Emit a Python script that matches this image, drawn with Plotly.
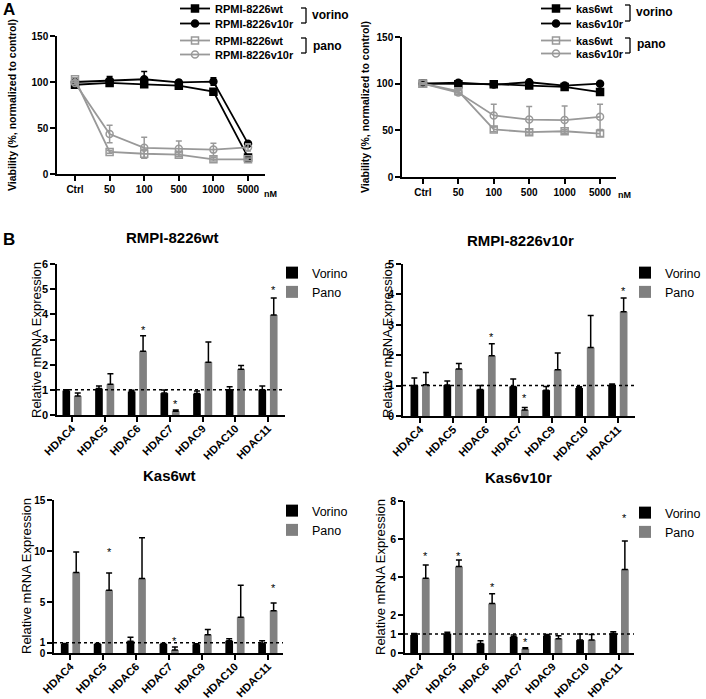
import plotly.graph_objects as go

W, H = 706, 699
FONT = "Liberation Sans, Arial, sans-serif"

# ---------------- Panel A data ----------------
doses = ["Ctrl", "50", "100", "500", "1000", "5000"]

rpmi_vor_wt = [97, 99, 97.5, 96, 89.5, 18]
rpmi_vor_wt_err = [1.5, 1.5, 2.5, 1.5, 1.5, 1.5]
rpmi_vor_v10r = [100, 101.5, 103, 99.5, 100.5, 33]
rpmi_vor_v10r_err = [1.5, 4.5, 8.5, 2.5, 4, 1.5]
rpmi_pan_wt = [103, 24, 22, 21, 16, 16]
rpmi_pan_wt_err = [1.5, 1.5, 5, 2, 2, 1.5]
rpmi_pan_v10r = [99, 43.5, 28.5, 27.5, 26.5, 29]
rpmi_pan_v10r_err = [2, 9.5, 11.5, 8.5, 7, 4]
rpmi_star_x = ["50", "100", "500", "1000"]
rpmi_star_y = [68, 52, 52, 39]

kas_vor_wt = [100, 99.5, 99.5, 98, 96.5, 91]
kas_vor_wt_err = [1, 1, 1.5, 1, 1, 2]
kas_vor_v10r = [100, 101, 99, 101.5, 98, 100]
kas_vor_v10r_err = [1, 1, 1, 1, 1, 1]
kas_pan_wt = [100, 92, 51, 48, 49, 46.5]
kas_pan_wt_err = [1, 2, 2.5, 3, 2, 3]
kas_pan_v10r = [100, 90.5, 66, 61.5, 61, 64.5]
kas_pan_v10r_err = [1, 2, 12, 14, 15, 13.5]
kas_star_x = ["100", "500", "1000", "5000"]
kas_star_y = [40, 40, 40, 40]

# ---------------- Panel B data ----------------
hdac = ["HDAC4", "HDAC5", "HDAC6", "HDAC7", "HDAC9", "HDAC10", "HDAC11"]

b1_vor = [0.97, 1.05, 0.93, 0.87, 0.85, 1.0, 1.0]
b1_vor_err = [0.03, 0.1, 0.05, 0.12, 0.1, 0.12, 0.15]
b1_pan = [0.75, 1.22, 2.53, 0.15, 2.1, 1.82, 3.97]
b1_pan_err = [0.12, 0.42, 0.62, 0.05, 0.8, 0.15, 0.68]
b1_star_x = ["HDAC6", "HDAC7", "HDAC11"]
b1_star_y = [3.5, 0.55, 5.1]

b2_vor = [1.0, 1.02, 0.87, 0.97, 0.85, 0.92, 1.02]
b2_vor_err = [0.25, 0.13, 0.13, 0.25, 0.12, 0.04, 0.03]
b2_pan = [1.03, 1.55, 1.98, 0.2, 1.52, 2.25, 3.43]
b2_pan_err = [0.4, 0.18, 0.4, 0.08, 0.55, 1.06, 0.45]
b2_star_x = ["HDAC6", "HDAC7", "HDAC11"]
b2_star_y = [2.7, 0.69, 4.2]

b3_vor = [0.88, 0.88, 1.15, 0.88, 0.85, 1.2, 0.95]
b3_vor_err = [0.05, 0.05, 0.4, 0.05, 0.05, 0.2, 0.25]
b3_pan = [7.9, 6.15, 7.3, 0.3, 1.8, 3.5, 4.15]
b3_pan_err = [2.0, 1.7, 4.0, 0.3, 0.5, 3.15, 0.75]
b3_star_x = ["HDAC5", "HDAC7", "HDAC11"]
b3_star_y = [10.2, 1.45, 6.7]

b4_vor = [0.95, 1.02, 0.5, 0.85, 0.92, 0.68, 1.02]
b4_vor_err = [0.07, 0.07, 0.15, 0.1, 0.05, 0.32, 0.1]
b4_pan = [3.93, 4.55, 2.6, 0.22, 0.75, 0.68, 4.4]
b4_pan_err = [0.7, 0.35, 0.52, 0.06, 0.16, 0.3, 1.5]
b4_star_x = ["HDAC4", "HDAC5", "HDAC6", "HDAC7", "HDAC11"]
b4_star_y = [5.25, 5.25, 3.63, 0.74, 7.27]


def X(p):
    return p / W


def Y(p):
    return 1 - p / H


BLACK = "black"
GRAY_L = "#999999"
GRAY_B = "#808080"

fig = go.Figure()


def add_line(y, err, name, color, symbol, fill, xa, ya, leg):
    fig.add_trace(go.Scatter(
        x=doses, y=y, mode="lines+markers", name=name, showlegend=True,
        line=dict(color=color, width=1.8),
        marker=dict(symbol=symbol, size=7, color=fill, line=dict(color=color, width=1.5)),
        error_y=dict(type="data", array=err, color=color, thickness=1.5, width=3),
        xaxis=xa, yaxis=ya, legend=leg, cliponaxis=False))


# top-left (one legend per entry so rows can sit as in the reference)
add_line(rpmi_vor_wt, rpmi_vor_wt_err, "RPMI-8226wt", BLACK, "square", BLACK, "x", "y", "legend")
add_line(rpmi_vor_v10r, rpmi_vor_v10r_err, "RPMI-8226v10r", BLACK, "circle", BLACK, "x", "y", "legend7")
add_line(rpmi_pan_wt, rpmi_pan_wt_err, "RPMI-8226wt", GRAY_L, "square-open", GRAY_L, "x", "y", "legend8")
add_line(rpmi_pan_v10r, rpmi_pan_v10r_err, "RPMI-8226v10r", GRAY_L, "circle-open", GRAY_L, "x", "y", "legend9")
# top-right
add_line(kas_vor_wt, kas_vor_wt_err, "kas6wt", BLACK, "square", BLACK, "x2", "y2", "legend2")
add_line(kas_vor_v10r, kas_vor_v10r_err, "kas6v10r", BLACK, "circle", BLACK, "x2", "y2", "legend10")
add_line(kas_pan_wt, kas_pan_wt_err, "kas6wt", GRAY_L, "square-open", GRAY_L, "x2", "y2", "legend11")
add_line(kas_pan_v10r, kas_pan_v10r_err, "kas6v10r", GRAY_L, "circle-open", GRAY_L, "x2", "y2", "legend12")


def add_bars(vor, vor_err, pan, pan_err, xa, ya, leg):
    for name, vals, errs, col in (("Vorino", vor, vor_err, BLACK), ("Pano", pan, pan_err, GRAY_B)):
        fig.add_trace(go.Bar(
            x=hdac, y=vals, name=name, showlegend=True, marker=dict(color=col, line=dict(width=0)),
            error_y=dict(type="data", array=errs, arrayminus=[0] * len(errs), symmetric=False,
                         color=BLACK, thickness=1.5, width=3),
            xaxis=xa, yaxis=ya, legend=leg))


add_bars(b1_vor, b1_vor_err, b1_pan, b1_pan_err, "x3", "y3", "legend3")
add_bars(b2_vor, b2_vor_err, b2_pan, b2_pan_err, "x4", "y4", "legend4")
add_bars(b3_vor, b3_vor_err, b3_pan, b3_pan_err, "x5", "y5", "legend5")
add_bars(b4_vor, b4_vor_err, b4_pan, b4_pan_err, "x6", "y6", "legend6")


def axis(dom, anchor, rng, size=10, **kw):
    d = dict(domain=dom, anchor=anchor, range=rng, showline=True, linecolor=BLACK, linewidth=1.5,
             ticks="outside", ticklen=5, tickwidth=1.5, tickcolor=BLACK, showgrid=False,
             zeroline=False, automargin=False,
             tickfont=dict(family=FONT, size=size, color=BLACK, weight="bold"))
    d.update(kw)
    return d


bx = dict(size=11, type="category", tickangle=-45, ticklabelstandoff=-4)

layout = dict(
    width=W, height=H, margin=dict(l=0, r=0, t=0, b=0, autoexpand=False),
    paper_bgcolor="white", plot_bgcolor="white", showlegend=True,
    barmode="group", bargap=0.3, bargroupgap=0.33,
    font=dict(family=FONT, color=BLACK),
    xaxis=axis([X(57), X(265)], "y", [-0.52, 5.49], type="category"),
    yaxis=axis([Y(174), Y(36)], "x", [0, 150], tickvals=[0, 50, 100, 150]),
    xaxis2=axis([X(402), X(616)], "y2", [-0.59, 5.45], type="category"),
    yaxis2=axis([Y(177), Y(37)], "x2", [0, 150], tickvals=[0, 50, 100, 150]),
    xaxis3=axis([X(57), X(285)], "y3", [-0.46, 6.52], **bx),
    yaxis3=axis([Y(415), Y(264)], "x3", [0, 6], size=11, tickvals=[0, 1, 2, 3, 4, 5, 6]),
    xaxis4=axis([X(403), X(635)], "y4", [-0.52, 6.52], **bx),
    yaxis4=axis([Y(416), Y(264)], "x4", [0, 5], size=11, tickvals=[0, 1, 2, 3, 4, 5]),
    xaxis5=axis([X(54), X(283)], "y5", [-0.5, 6.46], **bx),
    yaxis5=axis([Y(653), Y(500)], "x5", [0, 15], size=10, tickvals=[0, 1, 5, 10, 15]),
    xaxis6=axis([X(405), X(634)], "y6", [-0.45, 6.45], **bx),
    yaxis6=axis([Y(653), Y(501)], "x6", [0, 8], size=10.5, tickvals=[0, 1, 2, 4, 6, 8]),
)

leg_top = dict(bgcolor="rgba(0,0,0,0)", borderwidth=0, yanchor="top", xanchor="left",
               tracegroupgap=0, font=dict(family=FONT, size=11, color=BLACK, weight="bold"))
leg_bot = dict(bgcolor="rgba(0,0,0,0)", borderwidth=0, yanchor="top",
               tracegroupgap=0, font=dict(family=FONT, size=12.5, color=BLACK))
ROW_OFF = 13  # distance from legend top to the centre of its first row
for key, xl, row in (("legend", 175, 7), ("legend7", 175, 22), ("legend8", 175, 39), ("legend9", 175, 53),
                     ("legend2", 536, 7), ("legend10", 536, 22), ("legend11", 536, 39), ("legend12", 536, 52)):
    layout[key] = dict(x=X(xl), y=Y(row - ROW_OFF), visible=True, **leg_top)
layout["legend3"] = dict(x=X(272), y=Y(258), xanchor="left", **leg_bot)
layout["legend4"] = dict(x=1, y=Y(258), xanchor="right", **leg_bot)
layout["legend5"] = dict(x=X(272), y=Y(496), xanchor="left", **leg_bot)
layout["legend6"] = dict(x=1, y=Y(498), xanchor="right", **leg_bot)
fig.update_layout(**layout)

ann = []


def txt(x, y, s, size, bold=True, angle=0):
    ann.append(dict(x=X(x), y=Y(y), xref="paper", yref="paper", text=s, showarrow=False,
                    textangle=angle, xanchor="center", yanchor="middle",
                    font=dict(family=FONT, size=size, color=BLACK, weight="bold" if bold else "normal")))


txt(9, 10, "A", 17)
txt(9, 239, "B", 17)
txt(270, 194, "nM", 9)
txt(624, 195, "nM", 9)
txt(12, 105, "Viability (%, normalized to control)", 10.5, angle=-90)
txt(365, 107, "Viability (%, normalized to control)", 10.5, angle=-90)
txt(36, 340, "Relative mRNA Expression", 13, bold=False, angle=-90)
txt(387, 340, "Relative mRNA Expression", 13, bold=False, angle=-90)
txt(26, 576, "Relative mRNA Expression", 13, bold=False, angle=-90)
txt(380, 577, "Relative mRNA Expression", 13, bold=False, angle=-90)
txt(172, 238, "RMPI-8226wt", 15)
txt(520, 240, "RMPI-8226v10r", 15)
txt(169, 476, "Kas6wt", 15)
txt(518, 477, "Kas6v10r", 15)

# bracket labels for top legends
txt(330, 15, "vorino", 12)
txt(327, 46, "pano", 12)
txt(654, 12, "vorino", 12)
txt(651, 44, "pano", 12)


def stars(xs, ys, xa, ya, dx=0.0):
    for xv, yv in zip(xs, ys):
        xx = xv if dx == 0 else (hdac.index(xv) + dx)
        ann.append(dict(x=xx, y=yv, xref=xa, yref=ya, text="*", showarrow=False, yshift=-3,
                        font=dict(family=FONT, size=11, color=BLACK)))


stars(rpmi_star_x, rpmi_star_y, "x", "y")
stars(kas_star_x, kas_star_y, "x2", "y2")
stars(b1_star_x, b1_star_y, "x3", "y3", 0.175)
stars(b2_star_x, b2_star_y, "x4", "y4", 0.175)
stars(b3_star_x, b3_star_y, "x5", "y5", 0.175)
stars(b4_star_x, b4_star_y, "x6", "y6", 0.175)

shapes = []


def bracket(x, y0, y1):
    ln = dict(color=BLACK, width=1.3)
    shapes.append(dict(type="line", xref="paper", yref="paper", x0=X(x), x1=X(x), y0=Y(y0), y1=Y(y1), line=ln))
    shapes.append(dict(type="line", xref="paper", yref="paper", x0=X(x - 5), x1=X(x), y0=Y(y0), y1=Y(y0), line=ln))
    shapes.append(dict(type="line", xref="paper", yref="paper", x0=X(x - 5), x1=X(x), y0=Y(y1), y1=Y(y1), line=ln))


bracket(306, 8, 23)
bracket(306, 38, 53)
bracket(630, 5, 21)
bracket(630, 38, 53)

for k in ("3", "4", "5", "6"):
    shapes.append(dict(type="line", xref="x%s domain" % k, yref="y%s" % k, x0=0, x1=1, y0=1, y1=1,
                       line=dict(color=BLACK, width=1.5, dash="dot"), layer="above"))

fig.update_layout(annotations=ann, shapes=shapes)
fig.write_html("out.html", config={"displayModeBar": False},
               post_script="document.body.style.margin='0';document.body.style.padding='0';"
                           "document.body.style.overflow='hidden';")
